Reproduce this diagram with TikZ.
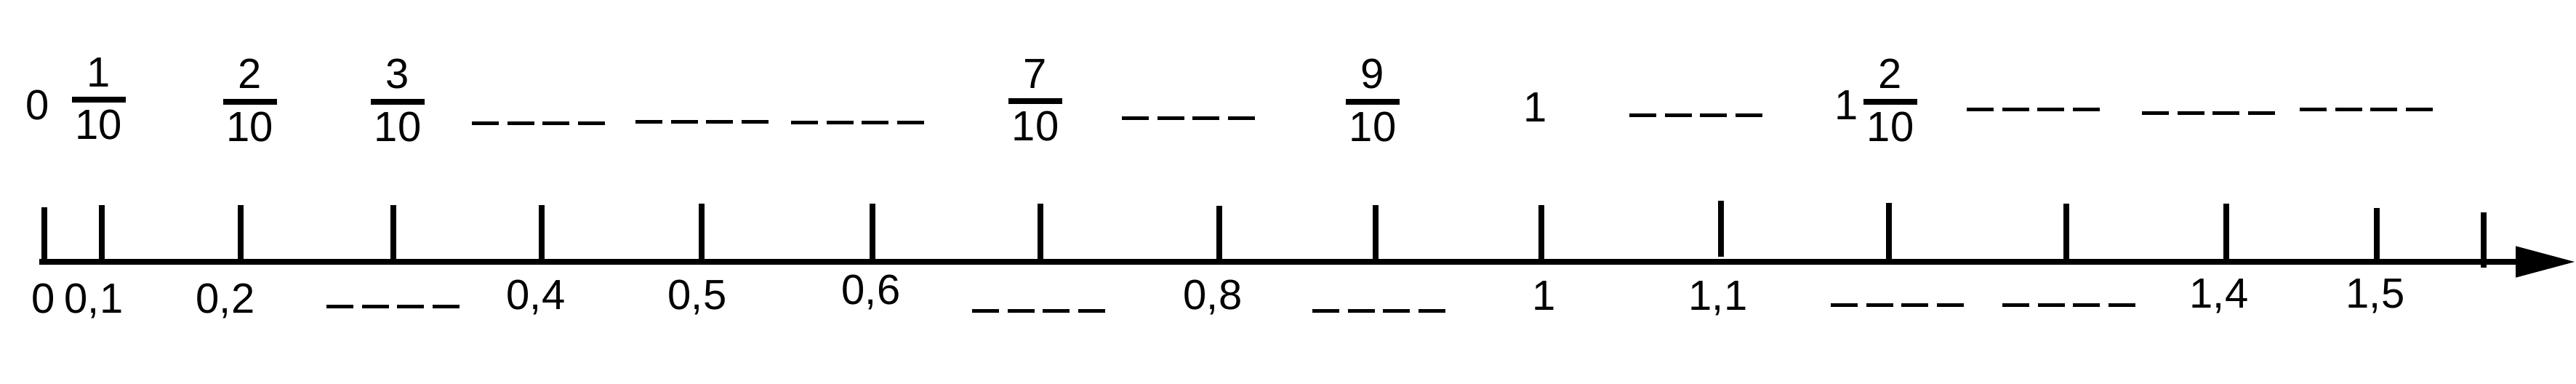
\documentclass[tikz,border=0pt]{standalone}
\usepackage{fontspec}
\setmainfont{Liberation Sans}
\usetikzlibrary{arrows.meta}

\newcommand{\tenths}[2]{\vbox{\hbox to 0.74cm{\hss#1\hss}\kern0.14cm\hrule height 0.08cm\kern0.10cm\hbox to 0.74cm{\hss#2\hss}}}

\begin{document}
\begin{tikzpicture}[
    num/.style={font=\fontsize{16.5}{20}\selectfont, inner sep=0pt},
    axis/.style={line width=0.08cm, -{Triangle[length=0.82cm,width=0.41cm]}},
    tick/.style={line width=0.08cm},
    blank/.style={line width=0.05cm, dash pattern=on 0.37cm off 0.115cm}
]
\useasboundingbox (0,-1.67) rectangle (35.43,3.60);
\coordinate (o) at (0.54,0);
\coordinate (tip) at (35.42,0);
\draw[axis] (o) -- (tip);
\draw[tick] (0.61,0) -- ++(0,0.75);
\draw[tick] (1.40,0) -- ++(0,0.78);
\draw[tick] (3.31,0) -- ++(0,0.78);
\draw[tick] (5.41,0) -- ++(0,0.78);
\draw[tick] (7.45,0) -- ++(0,0.78);
\draw[tick] (9.65,0) -- ++(0,0.80);
\draw[tick] (12.00,0) -- ++(0,0.80);
\draw[tick] (14.31,0) -- ++(0,0.80);
\draw[tick] (16.77,0) -- ++(0,0.77);
\draw[tick] (18.92,0) -- ++(0,0.78);
\draw[tick] (21.20,0) -- ++(0,0.78);
\draw[tick] (23.67,0.07) -- (23.67,0.84);
\draw[tick] (25.98,0) -- ++(0,0.81);
\draw[tick] (28.42,0) -- ++(0,0.80);
\draw[tick] (30.62,0) -- ++(0,0.80);
\draw[tick] (32.69,0) -- ++(0,0.74);
\draw[tick] (34.16,-0.08) -- (34.16,0.68);
% decimals under the axis
\node[num, anchor=base] (d0) at (0.60,-0.70) {0};
\node[num, anchor=base] (d1) at (1.29,-0.70) {0,1};
\node[num, anchor=base] (d2) at (3.10,-0.70) {0,2};
\node[num, anchor=base] (d4) at (7.37,-0.65) {0,4};
\node[num, anchor=base] (d5) at (9.59,-0.65) {0,5};
\node[num, anchor=base] (d6) at (11.98,-0.58) {0,6};
\node[num, anchor=base] (d8) at (16.68,-0.65) {0,8};
\node[num, anchor=base] (d10) at (21.24,-0.66) {1};
\node[num, anchor=base] (d11) at (23.63,-0.66) {1,1};
\node[num, anchor=base] (d14) at (30.52,-0.63) {1,4};
\node[num, anchor=base] (d15) at (32.67,-0.63) {1,5};
\draw[blank] (4.49,-0.61) -- ++(1.825,0);
\draw[blank] (13.37,-0.67) -- ++(1.825,0);
\draw[blank] (18.05,-0.67) -- ++(1.825,0);
\draw[blank] (25.18,-0.59) -- ++(1.825,0);
\draw[blank] (27.54,-0.59) -- ++(1.825,0);
% fractions above the axis
\node[num, anchor=base] (f0) at (0.52,1.96) {0};
\node[num] (f1) at (1.36,2.24) {\tenths{1}{10}};
\node[num] (f2) at (3.44,2.22) {\tenths{2}{10}};
\node[num] (f3) at (5.47,2.22) {\tenths{3}{10}};
\node[num] (f7) at (14.24,2.22) {\tenths{7}{10}};
\node[num] (f9) at (18.88,2.22) {\tenths{9}{10}};
\node[num, anchor=base] (f10) at (21.12,1.93) {1};
\node[num, anchor=base] (f12w) at (25.40,1.96) {1};
\node[num] (f12) at (26.00,2.22) {\tenths{2}{10}};
\draw[blank] (6.49,1.91) -- ++(1.825,0);
\draw[blank] (8.74,1.93) -- ++(1.825,0);
\draw[blank] (10.88,1.92) -- ++(1.825,0);
\draw[blank] (15.43,1.98) -- ++(1.825,0);
\draw[blank] (22.41,2.02) -- ++(1.825,0);
\draw[blank] (27.05,2.10) -- ++(1.825,0);
\draw[blank] (29.46,2.05) -- ++(1.825,0);
\draw[blank] (31.63,2.10) -- ++(1.825,0);
\end{tikzpicture}
\end{document}
